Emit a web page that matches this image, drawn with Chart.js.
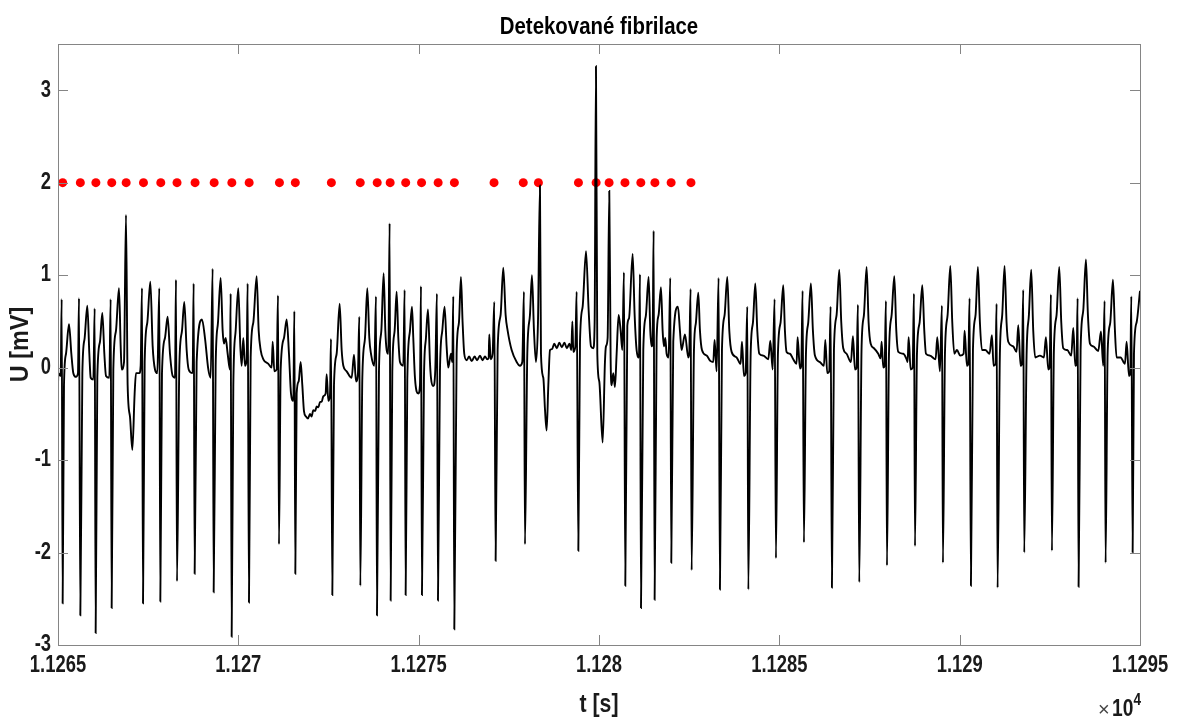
<!DOCTYPE html>
<html>
<head>
    <title>Detekované fibrilace</title>
    <script src="https://cdn.jsdelivr.net/npm/chart.js"></script>
    <style>
        body { margin: 0; background: #fff; }
        canvas { display: block; }
    </style>
</head>
<body>
    <canvas id="ecgChart" width="1180" height="720"></canvas>
    <script type="text/javascript">
        // record start, all times below are offsets from it [s]
        var startTime = 11265;

        // ECG trace: [t offset (s), U (mV)]
        var ecgTrace = [
            [0.000,-0.19],[0.009,-0.06],[0.074,-0.09],[0.102,0.74],[0.129,-2.55],[0.166,-0.19],[0.222,0.15],[0.305,0.47],[0.370,0.15],[0.425,-0.06],[0.499,-0.10],[0.554,-0.06],
            [0.582,0.75],[0.619,-2.68],[0.675,-0.06],[0.739,0.32],[0.813,0.67],[0.869,0.15],[0.906,-0.11],[0.980,-0.13],
            [1.017,0.64],[1.044,-2.87],[1.090,-0.11],[1.164,0.28],[1.229,0.59],[1.285,0.15],[1.331,-0.09],[1.423,-0.11],
            [1.460,0.74],[1.488,-2.60],[1.534,-0.02],[1.608,0.40],[1.691,0.86],[1.738,0.23],[1.765,-0.02],[1.830,0.06],
            [1.885,1.65],[1.931,-0.19],[1.996,-0.53],[2.061,-0.89],[2.125,-0.28],[2.162,-0.06],[2.255,-0.06],[2.292,0.02],
            [2.329,0.86],[2.357,-2.55],[2.403,0.06],[2.477,0.49],[2.560,0.93],[2.625,0.23],[2.689,-0.02],[2.754,-0.06],
            [2.809,0.86],[2.837,-2.53],[2.883,-0.06],[2.966,0.32],[3.040,0.55],[3.105,0.15],[3.179,-0.09],[3.244,-0.11],
            [3.271,0.95],[3.299,-2.31],[3.364,0.02],[3.438,0.40],[3.502,0.71],[3.567,0.19],[3.623,-0.02],[3.733,-0.06],
            [3.761,0.91],[3.789,-2.23],[3.844,0.06],[3.992,0.52],[4.075,0.32],[4.168,-0.02],[4.233,-0.11],
            [4.288,1.07],[4.316,-2.43],[4.371,0.02],[4.436,0.49],[4.510,0.97],[4.565,0.40],[4.602,0.26],[4.648,0.32],[4.704,0.15],[4.768,-0.02],
            [4.787,0.80],[4.815,-2.91],[4.861,-0.19],[4.926,0.40],[4.999,0.86],[5.055,0.23],[5.092,0.02],[5.138,0.32],[5.184,0.02],[5.231,0.09],
            [5.258,0.91],[5.295,-2.54],[5.342,0.11],[5.416,0.49],[5.508,0.99],[5.564,0.40],[5.619,0.19],[5.693,0.09],[5.832,0.04],[5.924,0.00],[5.952,0.28],[5.998,-0.04],[6.063,-0.02],
            [6.100,0.78],[6.127,-1.91],[6.174,-0.02],[6.266,0.32],[6.340,0.52],[6.404,0.15],[6.460,-0.28],[6.525,-0.36],
            [6.553,0.61],[6.580,-2.23],[6.617,-0.28],[6.672,-0.15],[6.728,0.06],[6.774,-0.19],[6.820,-0.47],[6.876,-0.53],
            [6.930,-0.55],[6.987,-0.50],[7.030,-0.53],[7.079,-0.46],[7.130,-0.47],[7.172,-0.42],[7.220,-0.43],[7.264,-0.37],[7.310,-0.37],[7.356,-0.31],[7.421,-0.28],[7.449,-0.07],[7.495,-0.36],[7.541,-0.30],
            [7.569,0.31],[7.606,-2.46],[7.652,-0.19],[7.726,0.15],[7.809,0.69],[7.865,0.19],[7.911,0.02],[8.003,-0.04],[8.142,-0.11],[8.207,0.14],[8.262,-0.15],[8.317,-0.06],
            [8.354,0.55],[8.382,-2.36],[8.438,-0.11],[8.512,0.32],[8.576,0.86],[8.632,0.32],[8.678,0.15],[8.771,0.02],
            [8.817,0.77],[8.844,-2.68],[8.900,-0.02],[8.965,0.40],[9.029,1.02],[9.076,0.40],[9.113,0.19],[9.159,0.15],
            [9.195,1.56],[9.223,-2.52],[9.269,-0.04],[9.334,0.40],[9.389,0.82],[9.436,0.32],[9.482,0.06],[9.574,0.02],
            [9.611,0.84],[9.639,-2.46],[9.685,-0.13],[9.759,0.40],[9.814,0.66],[9.851,0.32],[9.897,-0.11],[9.990,-0.28],[10.036,-0.19],
            [10.064,0.88],[10.091,-2.46],[10.147,-0.11],[10.202,0.32],[10.258,0.63],[10.313,0.06],[10.341,-0.11],[10.405,-0.20],[10.461,-0.02],
            [10.507,0.80],[10.535,-2.52],[10.590,-0.04],[10.655,0.40],[10.719,0.66],[10.775,0.23],[10.821,0.00],[10.895,0.15],[10.932,0.06],
            [10.960,0.77],[10.988,-2.83],[11.052,0.15],[11.117,0.49],[11.172,0.98],[11.218,0.49],[11.264,0.15],
            [11.330,0.08],[11.400,0.12],[11.470,0.07],[11.550,0.12],[11.620,0.08],[11.700,0.13],[11.770,0.08],[11.840,0.12],[11.900,0.09],[11.940,0.10],[11.958,0.36],[11.995,0.09],[12.050,0.15],
            [12.097,0.71],[12.134,-2.09],[12.189,0.19],[12.272,0.57],[12.346,1.08],[12.411,0.57],[12.467,0.40],[12.578,0.19],[12.717,0.06],[12.809,0.02],[12.873,0.06],
            [12.919,0.82],[12.947,-1.91],[13.012,0.15],[13.086,0.57],[13.141,1.00],[13.197,0.40],[13.252,0.06],[13.308,0.49],
            [13.363,1.97],[13.391,0.15],[13.456,-0.11],[13.502,-0.45],[13.548,-0.68],[13.595,-0.19],[13.641,0.19],
            [13.700,0.20],[13.760,0.26],[13.830,0.21],[13.900,0.27],[13.970,0.22],[14.040,0.27],[14.110,0.21],[14.180,0.26],[14.233,0.19],[14.261,0.50],[14.288,0.17],[14.344,0.23],
            [14.380,0.82],[14.427,-1.98],[14.473,0.28],[14.547,0.66],[14.640,1.26],[14.713,0.62],[14.778,0.23],[14.843,0.21],[14.879,0.49],
            [14.916,3.26],[14.953,0.15],[15.008,-0.15],[15.101,-0.81],[15.165,0.06],[15.193,0.23],[15.239,0.32],
            [15.285,1.91],[15.322,0.11],[15.350,-0.19],[15.396,-0.06],[15.442,-0.21],[15.489,0.15],[15.544,0.57],[15.600,0.40],[15.646,0.19],
            [15.692,1.03],[15.729,-2.36],[15.785,0.45],[15.831,0.53],[15.933,1.23],[15.988,0.57],[16.043,0.19],[16.108,0.11],
            [16.136,1.01],[16.164,-2.60],[16.228,0.19],[16.302,0.57],[16.376,0.98],[16.422,0.40],[16.459,0.23],[16.487,0.32],
            [16.515,1.48],[16.542,-2.51],[16.598,0.32],[16.653,0.57],[16.718,0.87],[16.764,0.40],[16.801,0.23],[16.838,0.32],[16.875,0.15],[16.930,0.11],
            [16.976,0.97],[17.004,-2.11],[17.059,0.28],[17.189,0.66],[17.244,0.40],[17.290,0.19],[17.383,0.36],[17.475,0.11],[17.502,0.15],
            [17.540,0.85],[17.568,-2.19],[17.633,0.19],[17.688,0.49],[17.753,0.81],[17.799,0.40],[17.855,0.19],[17.984,0.13],[18.094,0.07],[18.168,0.06],[18.205,0.30],[18.261,-0.04],
            [18.316,0.97],[18.353,-2.40],[18.409,0.19],[18.483,0.57],[18.557,0.98],[18.613,0.40],[18.677,0.17],[18.816,0.11],[18.927,0.04],[18.964,0.28],[19.019,-0.09],[19.066,-0.06],
            [19.112,0.66],[19.140,-2.40],[19.205,0.15],[19.269,0.49],[19.334,0.91],[19.389,0.40],[19.445,0.15],[19.556,0.13],[19.694,0.09],[19.750,0.29],[19.815,-0.02],
            [19.869,0.74],[19.906,-2.06],[19.961,0.15],[20.035,0.49],[20.109,0.89],[20.155,0.40],[20.201,0.17],[20.294,0.15],[20.386,0.09],[20.478,0.04],[20.506,0.33],[20.571,-0.01],[20.608,0.02],
            [20.645,0.83],[20.682,-1.89],[20.737,0.13],[20.802,0.49],[20.876,0.91],[20.931,0.40],[20.987,0.13],[21.126,0.06],[21.237,0.02],[21.274,0.30],[21.329,-0.06],[21.384,-0.04],
            [21.421,0.66],[21.458,-2.38],[21.514,0.19],[21.588,0.57],[21.662,1.06],[21.717,0.49],[21.772,0.21],[21.865,0.15],[21.985,0.06],[22.041,0.34],[22.096,-0.02],[22.142,0.00],
            [22.179,0.68],[22.216,-2.32],[22.281,0.23],[22.346,0.57],[22.420,1.09],[22.475,0.49],[22.531,0.26],[22.623,0.21],[22.743,0.15],[22.808,0.10],[22.836,0.28],[22.882,0.00],[22.919,0.02],
            [22.956,0.72],[22.984,-2.14],[23.040,0.15],[23.114,0.57],[23.188,0.99],[23.243,0.40],[23.299,0.17],[23.437,0.15],[23.530,0.09],[23.557,0.06],[23.585,0.33],[23.640,-0.02],[23.696,0.00],
            [23.733,0.80],[23.761,-1.93],[23.816,0.15],[23.890,0.49],[23.964,0.89],[24.019,0.40],[24.066,0.15],[24.176,0.13],[24.333,0.09],[24.379,0.33],[24.453,-0.04],
            [24.509,0.67],[24.536,-2.11],[24.592,0.15],[24.666,0.57],[24.740,1.10],[24.795,0.49],[24.851,0.15],[24.924,0.19],[25.016,0.13],[25.109,0.15],[25.137,0.40],[25.201,0.02],[25.238,0.04],
            [25.275,0.75],[25.312,-2.36],[25.368,0.19],[25.441,0.57],[25.506,1.09],[25.561,0.49],[25.617,0.19],[25.709,0.19],[25.829,0.15],[25.894,0.35],[25.940,0.02],[25.995,0.04],
            [26.023,0.69],[26.051,-2.38],[26.115,0.15],[26.180,0.57],[26.245,1.10],[26.300,0.49],[26.347,0.28],[26.485,0.23],[26.578,0.17],[26.624,0.46],[26.689,0.02],[26.726,0.04],
            [26.763,0.84],[26.790,-2.00],[26.855,0.13],[26.920,0.57],[26.984,1.06],[27.040,0.40],[27.095,0.11],[27.225,0.13],[27.336,0.11],[27.391,0.33],[27.456,-0.02],[27.493,0.00],
            [27.530,0.79],[27.558,-1.98],[27.613,0.19],[27.687,0.57],[27.761,1.09],[27.817,0.49],[27.872,0.21],[27.983,0.19],[28.094,0.13],[28.150,0.43],[28.205,0.02],[28.242,0.04],
            [28.270,0.75],[28.297,-2.37],[28.353,0.19],[28.427,0.62],[28.501,1.17],[28.556,0.57],[28.612,0.26],[28.704,0.23],[28.843,0.18],[28.917,0.39],[28.981,0.02],
            [29.018,0.72],[29.046,-2.11],[29.102,0.15],[29.176,0.49],[29.250,0.95],[29.305,0.40],[29.351,0.11],[29.462,0.11],[29.583,0.04],[29.629,0.28],[29.694,-0.09],[29.731,-0.06],
            [29.759,0.77],[29.796,-2.00],[29.833,0.15],[29.907,0.49],[30.000,0.83]
        ];

        // beats flagged as fibrillation (offsets in s), drawn at a fixed marker level
        var fibrillationTimes = [
            0.13, 0.62, 1.05, 1.49, 1.89, 2.37, 2.85, 3.30, 3.80, 4.33, 4.82,
            5.30, 6.14, 6.58, 7.58, 8.38, 8.85, 9.21, 9.64, 10.08, 10.54, 10.99,
            12.09, 12.90, 13.32, 14.43, 14.92, 15.28, 15.72, 16.16, 16.55, 17.00, 17.55
        ];
        var markerLevel = 2;

        var xTicks = [11265, 11270, 11275, 11280, 11285, 11290, 11295];
        var yTicks = [-3, -2, -1, 0, 1, 2, 3];

        var fontFamily = "'Liberation Sans', Arial, sans-serif";
        var textColor = '#1a1a1a';
        var boxColor = '#858585';

        // bold text squeezed horizontally (narrow Helvetica look)
        function narrowText(ctx, text, x, y, size, squeeze, align, rotate) {
            ctx.save();
            ctx.translate(x, y);
            if (rotate) ctx.rotate(-Math.PI / 2);
            ctx.scale(squeeze, 1);
            ctx.font = 'bold ' + size + 'px ' + fontFamily;
            ctx.textAlign = align;
            ctx.textBaseline = 'middle';
            ctx.fillText(text, 0, 0);
            ctx.restore();
        }

        // MATLAB-like box with inward tick marks, tick labels and titles
        var boxPlugin = {
            id: 'boxTicks',
            afterDatasetsDraw: function(chart) {
                var ctx = chart.ctx, a = chart.chartArea;
                var xs = chart.scales.x, ys = chart.scales.y;
                var len = 10;
                ctx.save();
                ctx.strokeStyle = boxColor;
                ctx.lineWidth = 1;
                ctx.beginPath();
                xTicks.forEach(function(v) {
                    var px = Math.round(xs.getPixelForValue(v)) + 0.5;
                    ctx.moveTo(px, a.bottom); ctx.lineTo(px, a.bottom - len);
                    ctx.moveTo(px, a.top); ctx.lineTo(px, a.top + len);
                });
                yTicks.forEach(function(v) {
                    var py = Math.round(ys.getPixelForValue(v)) + 0.5;
                    ctx.moveTo(a.left, py); ctx.lineTo(a.left + len, py);
                    ctx.moveTo(a.right, py); ctx.lineTo(a.right - len, py);
                });
                ctx.stroke();
                ctx.strokeRect(Math.round(a.left) + 0.5, Math.round(a.top) + 0.5,
                    Math.round(a.right - a.left), Math.round(a.bottom - a.top));

                ctx.fillStyle = textColor;
                xTicks.forEach(function(v) {
                    var label = String(+(v / 1e4).toFixed(5));
                    narrowText(ctx, label, xs.getPixelForValue(v), a.bottom + 21, 23, 0.8, 'center');
                });
                yTicks.forEach(function(v) {
                    narrowText(ctx, String(v), a.left - 7, ys.getPixelForValue(v), 23, 0.8, 'right');
                });

                ctx.fillStyle = '#000';
                narrowText(ctx, 'Detekované fibrilace', (a.left + a.right) / 2, 27, 24, 0.85, 'center');
                ctx.fillStyle = textColor;
                narrowText(ctx, 't [s]', (a.left + a.right) / 2, 705, 25, 0.85, 'center');
                narrowText(ctx, 'U [mV]', 21, (a.top + a.bottom) / 2, 26, 0.9, 'center', true);

                // exponent of the time axis
                ctx.fillStyle = '#444';
                ctx.font = '20px ' + fontFamily;
                ctx.textAlign = 'left';
                ctx.textBaseline = 'alphabetic';
                ctx.fillText('\u00d7', a.right - 42, 716);
                ctx.fillStyle = textColor;
                ctx.save();
                ctx.translate(a.right - 28, 716);
                ctx.scale(0.8, 1);
                ctx.font = 'bold 24px ' + fontFamily;
                ctx.fillText('10', 0, 0);
                ctx.font = 'bold 17px ' + fontFamily;
                ctx.fillText('4', 27, -11);
                ctx.restore();
                ctx.restore();
            }
        };

        var ctx = document.getElementById('ecgChart').getContext('2d');
        var chart = new Chart(ctx, {
            data: {
                datasets: [{
                    type: 'line',
                    label: 'EKG',
                    data: ecgTrace.map(p => ({ x: startTime + p[0], y: p[1] })),
                    borderColor: '#000',
                    borderWidth: 1.9,
                    pointRadius: 0,
                    cubicInterpolationMode: 'monotone',
                    fill: false,
                    order: 0
                }, {
                    type: 'scatter',
                    label: 'Fibrilace',
                    data: fibrillationTimes.map(t => ({ x: startTime + t, y: markerLevel })),
                    backgroundColor: '#ff0000',
                    borderWidth: 0,
                    pointRadius: 4.5,
                    order: 1
                }]
            },
            options: {
                responsive: false,
                animation: false,
                layout: { padding: { left: 0, right: 40, top: 44, bottom: 0 } },
                plugins: {
                    legend: { display: false },
                    tooltip: { enabled: false },
                    title: { display: false }
                },
                scales: {
                    x: {
                        type: 'linear',
                        min: 11265,
                        max: 11295,
                        grid: { display: false },
                        border: { display: false },
                        ticks: { display: false },
                        afterFit: function(scale) { scale.height = 75; }
                    },
                    y: {
                        type: 'linear',
                        min: -3,
                        max: 3.5,
                        grid: { display: false },
                        border: { display: false },
                        ticks: { display: false },
                        afterFit: function(scale) { scale.width = 58; }
                    }
                }
            },
            plugins: [boxPlugin]
        });
    </script>
</body>
</html>
